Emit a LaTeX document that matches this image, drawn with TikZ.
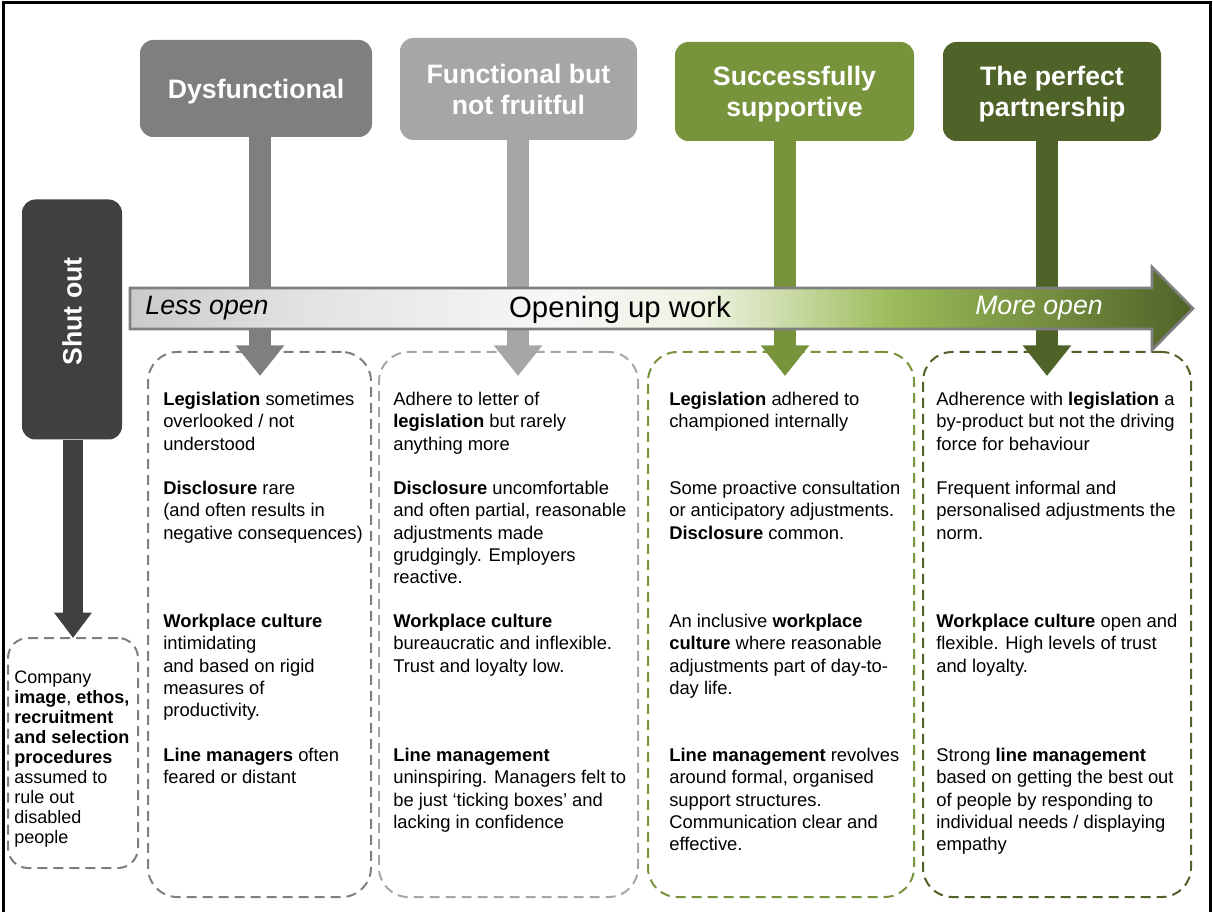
\documentclass[tikz,border=0pt]{standalone}
\usepackage{fontspec}
\setmainfont{Liberation Sans}
\usetikzlibrary{arrows.meta, positioning}

\definecolor{dysgray}{HTML}{7F7F7F}
\definecolor{fungray}{HTML}{A6A6A6}
\definecolor{supgreen}{HTML}{77933C}
\definecolor{pargreen}{HTML}{4F6228}
\definecolor{shutgray}{HTML}{404040}
\definecolor{arrA}{HTML}{CACACA}
\definecolor{arrB}{HTML}{E2E2E2}
\definecolor{arrC}{HTML}{F7F7F7}
\definecolor{arrD}{HTML}{EEF3E2}
\definecolor{arrE}{HTML}{9BBB59}
\definecolor{arrF}{HTML}{4F6228}

\pgfdeclarehorizontalshading{openshade}{100bp}{color(0bp)=(arrA); color(25bp)=(arrA);
  color(33bp)=(arrB); color(45bp)=(arrC); color(52bp)=(arrD); color(61bp)=(arrE);
  color(75bp)=(arrF); color(100bp)=(arrF)}

\begin{document}
\begin{tikzpicture}[x=0.75pt, y=-0.75pt,
    hdbox/.style={rounded corners=10pt, inner sep=0pt, align=center, text=white, text depth=0pt,
      font=\fontsize{20}{23.25}\selectfont\bfseries},
    stem/.style={line width=17pt, -{Triangle[width=35pt,length=23pt]}},
    dashbox/.style={rounded corners=22pt, line width=1.5pt, dash pattern=on 7.5pt off 4.5pt, inner sep=0pt},
    para/.style={anchor=north west, inner sep=0pt, align=left, font=\fontsize{13.8}{16.7}\selectfont}]

        \useasboundingbox (0,0) rectangle (1213,912);
        \draw[line width=2.25pt] (3.5,912) -- (3.5,3) -- (1210,3) -- (1210,912);

        % Draw the dashed boxes for the four stages

        \node[dashbox, draw=dysgray, minimum width=167.25pt, minimum height=408.75pt] (b1) at (259.5,624.5) {};
        \node[dashbox, draw=fungray, minimum width=194.25pt, minimum height=408.75pt] (b2) at (508.5,624.5) {};
        \node[dashbox, draw=supgreen, minimum width=199.5pt, minimum height=408.75pt] (b3) at (781,624.5) {};
        \node[dashbox, draw=pargreen, minimum width=201pt, minimum height=408.75pt] (b4) at (1057,624.5) {};
        \node[dashbox, rounded corners=15pt, draw=dysgray, minimum width=97.5pt, minimum height=172.5pt] (c0) at (73,753) {};

        % Draw the stage headers

        \node[hdbox, fill=dysgray, minimum width=174pt, minimum height=72.75pt] (h1) at (256,88.5) {Dysfunctional};
        \node[hdbox, fill=fungray, minimum width=177.75pt, minimum height=76.5pt] (h2) at (518.5,89) {Functional but\\not fruitful};
        \node[hdbox, fill=supgreen, minimum width=179.25pt, minimum height=74.25pt] (h3) at (794.5,91.5) {Successfully\\supportive};
        \node[hdbox, fill=pargreen, minimum width=163.5pt, minimum height=74.25pt] (h4) at (1052,91.5) {The perfect\\partnership};

        % Shut out box
        \node[fill=shutgray, rounded corners=10pt, inner sep=0pt, minimum width=75pt, minimum height=180pt] (s0) at (72,319.5) {};
        \node[rotate=90, text=white, font=\fontsize{20}{24}\selectfont\bfseries] (s0t) at (72,311.5) {Shut out};

        % Arrows from headers down into the boxes

        \coordinate (a0) at (73,638);
        \coordinate (a1) at (260,376);
        \coordinate (a2) at (518,376);
        \coordinate (a3) at (785,376);
        \coordinate (a4) at (1047,376);
        \draw[shutgray, line width=15pt, -{Triangle[width=27pt,length=19pt]}] (s0.south -| a0) -- (a0);
        \draw[stem, dysgray] (h1.south -| a1) -- (a1);
        \draw[stem, fungray] (h2.south -| a2) -- (a2);
        \draw[stem, supgreen] (h3.south -| a3) -- (a3);
        \draw[stem, pargreen] (h4.south -| a4) -- (a4);

        % The big arrow across

        \path[shade, shading=openshade, draw=dysgray, line width=2pt] (130,288) -- (1152,288) -- (1152,267)
            -- (1193,308.5) -- (1152,350) -- (1152,329) -- (130,329) -- cycle;
        \node[font=\fontsize{20}{24}\selectfont\itshape] (less) at (207,308.5) {Less open};
        \node[font=\fontsize{22}{26}\selectfont] (work) at (620,310) {Opening up work};
        \node[text=white, font=\fontsize{20}{24}\selectfont\itshape] (more) at (1039,308.5) {More open};

        % Texts in the boxes

        \node[para, font=\fontsize{13.5}{15}\selectfont] (c1) at (14,671) {Company\\\textbf{image}, \textbf{ethos,}\\\textbf{recruitment}\\\textbf{and selection}\\\textbf{procedures}\\assumed to\\rule out\\disabled\\people};

        \node[para] (t11) at (163,392) {\textbf{Legislation} sometimes\\overlooked / not\\understood};
        \node[para] (t12) at (163,481) {\textbf{Disclosure} rare\\(and often results in\\negative consequences)};
        \node[para] (t13) at (163,614) {\textbf{Workplace culture}\\intimidating\\and based on rigid\\measures of\\productivity.};
        \node[para] (t14) at (163,748) {\textbf{Line managers} often\\feared or distant};

        \node[para] (t21) at (393,392) {Adhere to letter of\\\textbf{legislation} but rarely\\anything more};
        \node[para] (t22) at (393,481) {\textbf{Disclosure} uncomfortable\\and often partial, reasonable\\adjustments made\\grudgingly. Employers\\reactive.};
        \node[para] (t23) at (393,614) {\textbf{Workplace culture}\\bureaucratic and inflexible.\\Trust and loyalty low.};
        \node[para] (t24) at (393,748) {\textbf{Line management}\\uninspiring. Managers felt to\\be just `ticking boxes' and\\lacking in confidence};

        \node[para] (t31) at (669,392) {\textbf{Legislation} adhered to\\championed internally};
        \node[para] (t32) at (669,481) {Some proactive consultation\\or anticipatory adjustments.\\\textbf{Disclosure} common.};
        \node[para] (t33) at (669,614) {An inclusive \textbf{workplace}\\\textbf{culture} where reasonable\\adjustments part of day-to-\\day life.};
        \node[para] (t34) at (669,748) {\textbf{Line management} revolves\\around formal, organised\\support structures.\\Communication clear and\\effective.};

        \node[para] (t41) at (936,392) {Adherence with \textbf{legislation} a\\by-product but not the driving\\force for behaviour};
        \node[para] (t42) at (936,481) {Frequent informal and\\personalised adjustments the\\norm.};
        \node[para] (t43) at (936,614) {\textbf{Workplace culture} open and\\flexible. High levels of trust\\and loyalty.};
        \node[para] (t44) at (936,748) {Strong \textbf{line management}\\based on getting the best out\\of people by responding to\\individual needs / displaying\\empathy};
    \end{tikzpicture}
\end{document}
